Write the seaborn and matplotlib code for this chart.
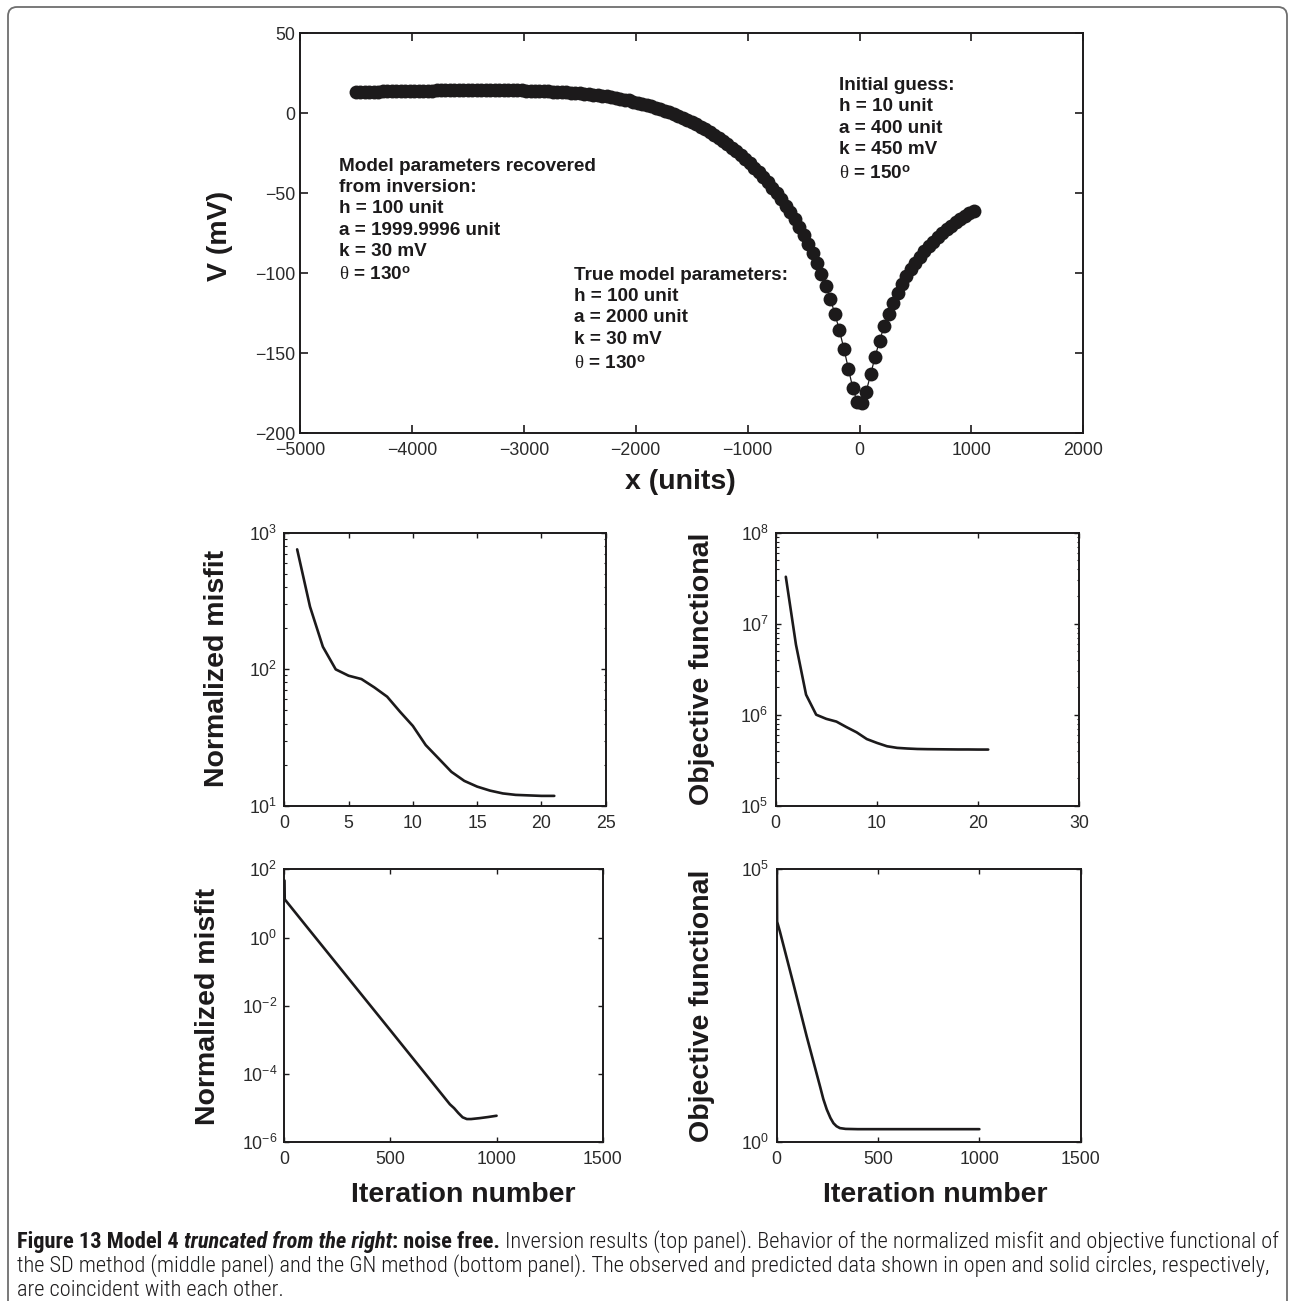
import matplotlib
matplotlib.use("Agg")
import pandas as pd
import seaborn as sns
import matplotlib.pyplot as plt
from matplotlib import font_manager as fm
from matplotlib.ticker import FixedLocator, LogLocator, NullLocator, NullFormatter
from matplotlib.patches import FancyBboxPatch

# ---------------------------------------------------------------- data
# Self-potential profile: stations every 40 units, anomaly in mV
station_x = list(range(-4500, 1021, 40))
potential_mv = [
    13.3, 13.4, 13.4, 13.5, 13.6, 13.6, 13.7, 13.7, 13.8, 13.8,
    13.9, 14.0, 14.0, 14.1, 14.1, 14.1, 14.2, 14.2, 14.3, 14.3,
    14.3, 14.4, 14.4, 14.4, 14.5, 14.5, 14.5, 14.5, 14.5, 14.5,
    14.5, 14.5, 14.5, 14.5, 14.4, 14.4, 14.3, 14.3, 14.2, 14.1,
    14.1, 14.0, 13.9, 13.7, 13.6, 13.4, 13.3, 13.1, 12.9, 12.7,
    12.4, 12.2, 11.9, 11.6, 11.2, 10.8, 10.5, 10.0, 9.6, 9.1,
    8.5, 8.0, 7.3, 6.7, 6.0, 5.2, 4.4, 3.6, 2.7, 1.7,
    0.7, -0.4, -1.6, -2.8, -4.1, -5.4, -6.9, -8.4, -10.0, -11.7,
    -13.5, -15.3, -17.3, -19.4, -21.5, -23.8, -26.2, -28.7, -31.3, -34.1,
    -37.0, -40.0, -43.2, -46.6, -50.1, -53.8, -57.8, -61.9, -66.3, -71.0,
    -76.1, -81.4, -87.2, -93.5, -100.3, -107.8, -116.1, -125.3, -135.5, -147.0,
    -159.5, -171.7, -180.5, -181.2, -173.9, -163.0, -152.0, -142.0, -133.1, -125.3,
    -118.4, -112.3, -106.9, -101.9, -97.5, -93.4, -89.7, -86.3, -83.1, -80.2,
    -77.4, -74.9, -72.5, -70.2, -68.2, -66.2, -64.3, -62.5, -60.8,
]

# Steepest-descent run
sd_iter = list(range(1, 22))
sd_misfit = [755, 287, 146, 99.7, 89.6, 84.7, 73.6, 62.9, 48.8, 38.4,
             27.8, 22.2, 17.7, 15.2, 13.8, 12.9, 12.3, 12.0, 11.9, 11.8, 11.8]
sd_objective = [3.28e7, 5.9e6, 1.66e6, 1.0e6, 9.0e5, 8.4e5, 7.3e5, 6.4e5, 5.4e5, 4.9e5,
                4.5e5, 4.32e5, 4.25e5, 4.2e5, 4.18e5, 4.17e5, 4.16e5, 4.15e5, 4.15e5,
                4.14e5, 4.14e5]

# Gauss-Newton run
gn_misfit_iter = [1, 2, 100, 200, 300, 400, 500, 600, 700, 780, 800, 820, 840,
                  860, 880, 920, 960, 1000]
gn_misfit = [47, 13.2, 2.3, 0.39, 0.066, 0.0112, 1.9e-3, 3.2e-4, 5.4e-5, 1.3e-5,
             1.0e-5, 7.2e-6, 5.4e-6, 4.8e-6, 4.8e-6, 5.1e-6, 5.5e-6, 6.0e-6]
gn_obj_iter = [1, 2, 16, 82, 148, 214, 230, 247, 265, 280, 295, 312, 340, 400, 1000]
gn_objective = [1.0e5, 1.1e4, 7.2e3, 8.1e2, 87, 10.5, 6.2, 4.0, 2.8, 2.24, 1.97,
                1.82, 1.76, 1.74, 1.74]

top_xticks = [-5000, -4000, -3000, -2000, -1000, 0, 1000, 2000]
top_yticks = [-200, -150, -100, -50, 0, 50]

THETA = r"$\mathrm{\theta}$"
DEG = r"$^{\mathbf{o}}$"
recovered_lines = ["Model parameters recovered", "from inversion:", "h = 100 unit",
                   "a = 1999.9996 unit", "k = 30 mV", THETA + " = 130" + DEG]
true_lines = ["True model parameters:", "h = 100 unit", "a = 2000 unit",
              "k = 30 mV", THETA + " = 130" + DEG]
initial_lines = ["Initial guess:", "h = 10 unit", "a = 400 unit",
                 "k = 450 mV", THETA + " = 150" + DEG]

# ---------------------------------------------------------------- style
INK = "#1c1a1b"
sns.set_theme(style="ticks")
plt.rcParams.update({
    "font.family": ["Liberation Sans", "DejaVu Sans"],
    "mathtext.fontset": "custom",
    "mathtext.rm": "Liberation Serif",
    "mathtext.it": "Liberation Serif:italic",
    "mathtext.bf": "Liberation Sans:bold",
    "mathtext.sf": "Liberation Sans",
    "axes.linewidth": 1.4,
    "axes.edgecolor": INK,
    "axes.facecolor": "white",
    "figure.facecolor": "white",
    "xtick.direction": "in",
    "ytick.direction": "in",
    "xtick.top": True,
    "ytick.right": True,
    "xtick.color": INK,
    "ytick.color": INK,
    "xtick.labelcolor": "#2a2a2a",
    "ytick.labelcolor": "#2a2a2a",
    "xtick.labelsize": 12.8,
    "ytick.labelsize": 12.8,
    "axes.grid": False,
})

W, H = 1294, 1301
fig = plt.figure(figsize=(W / 100, H / 100), dpi=100)


def px_axes(x0, y0, x1, y1):
    """Axes from pixel box (left, top, right, bottom)."""
    return fig.add_axes([x0 / W, 1 - y1 / H, (x1 - x0) / W, (y1 - y0) / H])


LABEL_KW = dict(fontsize=20.5, fontweight="bold", color=INK)

# ---------------------------------------------------------------- top panel
ax = px_axes(300, 33.3, 1083.3, 433.3)
profile = pd.DataFrame({"x": station_x, "V": potential_mv})
sns.lineplot(data=profile, x="x", y="V", ax=ax, color=INK, lw=0.9,
             estimator=None, sort=False)
sns.scatterplot(data=profile, x="x", y="V", ax=ax, color=INK, s=100,
                linewidth=0, zorder=3)
ax.set_xlim(-5000, 2000)
ax.set_ylim(-200, 50)
ax.xaxis.set_major_locator(FixedLocator(top_xticks))
ax.yaxis.set_major_locator(FixedLocator(top_yticks))
ax.tick_params(axis="both", length=6, width=1.2)
ax.tick_params(axis="x", pad=6)
ax.tick_params(axis="y", pad=3.5)
ax.set_xlabel("x (units)", va="center", **LABEL_KW)
ax.xaxis.set_label_coords(0.485, -0.121)
ax.set_ylabel("V (mV)", va="center", **LABEL_KW)
ax.yaxis.set_label_coords(-0.102, 0.493)

TXT_KW = dict(fontsize=13.6, fontweight="bold", color=INK, ha="left",
              va="baseline")
for line, yb in zip(recovered_lines, [-35.9, -49.25, -62.6, -75.9, -89.1, -104.4]):
    ax.text(-4650, yb, line, **TXT_KW)
for line, yb in zip(true_lines, [-104.4, -117.6, -130.7, -144.25, -159.7]):
    ax.text(-2550, yb, line, **TXT_KW)
for line, yb in zip(initial_lines, [14.3, 1.2, -12.2, -25.3, -40.9]):
    ax.text(-185, yb, line, **TXT_KW)


# ---------------------------------------------------------------- convergence panels
def convergence(ax, it, val, xlim, xticks, ylim, yticks=None, minor=True):
    df = pd.DataFrame({"iteration": it, "value": val})
    sns.lineplot(data=df, x="iteration", y="value", ax=ax, color=INK, lw=1.9,
                 estimator=None, sort=False)
    ax.set_yscale("log")
    ax.set_xlim(*xlim)
    ax.set_ylim(*ylim)
    ax.xaxis.set_major_locator(FixedLocator(xticks))
    if yticks is not None:
        ax.yaxis.set_major_locator(FixedLocator(yticks))
    if minor:
        ax.yaxis.set_minor_locator(LogLocator(base=10, subs=range(2, 10)))
        ax.yaxis.set_minor_formatter(NullFormatter())
    else:
        ax.yaxis.set_minor_locator(NullLocator())
    ax.xaxis.set_minor_locator(NullLocator())
    ax.tick_params(which="major", length=3.5, width=1.0)
    ax.tick_params(which="minor", length=1.8, width=0.8)
    ax.tick_params(axis="x", pad=6.5)
    ax.tick_params(axis="y", pad=5)
    ax.set_xlabel("")
    ax.set_ylabel("")


ax_sd_m = px_axes(284.3, 532.7, 605.7, 805.7)
convergence(ax_sd_m, sd_iter, sd_misfit, (0, 25), [0, 5, 10, 15, 20, 25], (10, 1000))
ax_sd_m.set_ylabel("Normalized misfit", va="center", **LABEL_KW)
ax_sd_m.yaxis.set_label_coords(-0.210, 0.502)

ax_sd_o = px_axes(775.7, 532.7, 1079.3, 805.7)
convergence(ax_sd_o, sd_iter, sd_objective, (0, 30), [0, 10, 20, 30], (1e5, 1e8))
ax_sd_o.set_ylabel("Objective functional", va="center", **LABEL_KW)
ax_sd_o.yaxis.set_label_coords(-0.244, 0.5)

ax_gn_m = px_axes(284.3, 869.3, 602.7, 1142.3)
convergence(ax_gn_m, gn_misfit_iter, gn_misfit, (0, 1500), [0, 500, 1000, 1500],
            (1e-6, 1e2), yticks=[1e-6, 1e-4, 1e-2, 1e0, 1e2], minor=False)
ax_gn_m.set_ylabel("Normalized misfit", va="center", **LABEL_KW)
ax_gn_m.yaxis.set_label_coords(-0.240, 0.497)
ax_gn_m.set_xlabel("Iteration number", va="center", **LABEL_KW)
ax_gn_m.xaxis.set_label_coords(0.561, -0.193)

ax_gn_o = px_axes(776.7, 869.3, 1080.7, 1142.3)
convergence(ax_gn_o, gn_obj_iter, gn_objective, (0, 1500), [0, 500, 1000, 1500],
            (1, 1e5), yticks=[1, 1e5], minor=False)
ax_gn_o.set_ylabel("Objective functional", va="center", **LABEL_KW)
ax_gn_o.yaxis.set_label_coords(-0.247, 0.5)
ax_gn_o.set_xlabel("Iteration number", va="center", **LABEL_KW)
ax_gn_o.xaxis.set_label_coords(0.523, -0.193)

# ---------------------------------------------------------------- frame
frame = FancyBboxPatch((8, -30), 1279, 1324, boxstyle="round,pad=0,rounding_size=9",
                       transform=None, facecolor="none", edgecolor="#6e6e6e",
                       linewidth=1.3, zorder=-5)
fig.patches.append(frame)

# ---------------------------------------------------------------- caption font
names = {f.name for f in fm.fontManager.ttflist}
cap_family, cap_stretch = "Roboto", "normal"
named_narrow = ["Liberation Sans Narrow", "Roboto Condensed", "Open Sans Condensed",
                "Noto Sans Condensed", "Noto Sans SemiCondensed", "DejaVu Sans Condensed"]
picked = next((n for n in named_narrow if n in names), None)
if picked is None:
    picked = next((n for n in sorted(names) if "Narrow" in n or "Condensed" in n), None)
if picked is not None:
    cap_family = picked
else:
    condensed = {"condensed", "semi-condensed", "extra-condensed"}
    for want in ("Noto Sans", "Open Sans", "Roboto", "DejaVu Sans"):
        if any(f.name == want and str(f.stretch) in condensed
               for f in fm.fontManager.ttflist):
            cap_family, cap_stretch = want, "condensed"
            break

# body text of the caption in the lightest weight the family offers
light_ok = any(f.name == cap_family and f.weight in (300, "light")
               for f in fm.fontManager.ttflist)
BODY_WEIGHT = "light" if light_ok else "normal"

# ---------------------------------------------------------------- caption
renderer = fig.canvas.get_renderer()
BOLD, REG = ("bold", "normal"), (BODY_WEIGHT, "normal")
SP = None
caption = [
    [("Figure 13 Model 4", *BOLD), SP, ("truncated from the right", "bold", "italic"),
     (": noise free.", *BOLD), SP,
     ("Inversion results (top panel). Behavior of the normalized misfit and "
      "objective functional of", *REG)],
    [("the SD method (middle panel) and the GN method (bottom panel). The observed "
      "and predicted data shown in open and solid circles, respectively,", *REG)],
    [("are coincident with each other.", *REG)],
]


def put_line(segments, x0, y_px, size, keep=True):
    probe_a = fig.text(0, 0, "n n", fontsize=size, family=cap_family,
                       fontstretch=cap_stretch, fontweight=BODY_WEIGHT)
    probe_b = fig.text(0, 0, "nn", fontsize=size, family=cap_family,
                       fontstretch=cap_stretch, fontweight=BODY_WEIGHT)
    space = (probe_a.get_window_extent(renderer).width
             - probe_b.get_window_extent(renderer).width)
    probe_a.remove()
    probe_b.remove()
    x = x0
    made = []
    for seg in segments:
        if seg is None:
            x += space
            continue
        text, weight, style = seg
        t = fig.text(x / W, 1 - y_px / H, text, fontsize=size, fontweight=weight,
                     fontstyle=style, family=cap_family, fontstretch=cap_stretch,
                     color=INK, ha="left", va="baseline")
        x += t.get_window_extent(renderer).width
        made.append(t)
    if not keep:
        for t in made:
            t.remove()
    return x - x0


ref_size = 10.0
width_at_ref = put_line(caption[0], 17, 1248, ref_size, keep=False)
cap_size = ref_size * (1279 - 17) / width_at_ref
for segs, yb in zip(caption, [1248, 1272, 1296]):
    put_line(segs, 17, yb, cap_size)

fig.savefig("out.png", dpi=100)
